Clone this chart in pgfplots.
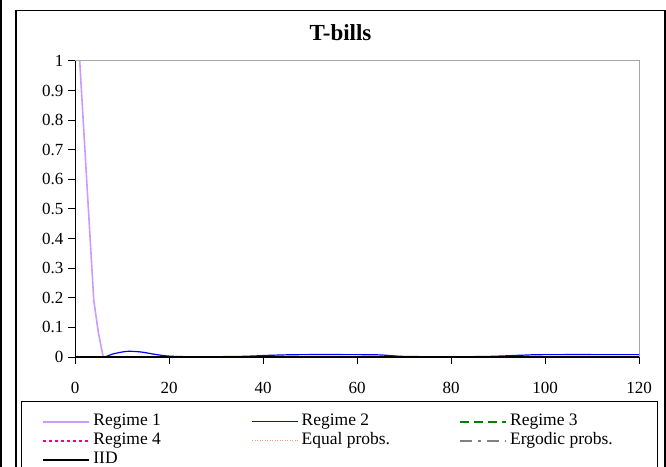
\documentclass[border=0pt]{standalone}
\usepackage{fontspec}
\setmainfont{Liberation Serif}
\usepackage{pgfplots}
\pgfplotsset{compat=1.18}
\definecolor{lav}{HTML}{CC99FF}
\definecolor{orng}{HTML}{FF9966}
\definecolor{dgreen}{HTML}{008000}
\begin{document}
\begin{tikzpicture}[x=1pt,y=1pt]
\clip (0,0) rectangle (666,466);
\draw[line width=1.5pt] (1,-5) -- (1,470);
\draw[line width=1.3pt] (16,-5) -- (16,455.5) -- (665,455.5) -- (665,-5);
\draw[line width=1pt] (21,-5) -- (21,64.5) -- (657,64.5) -- (657,-5);
\node[font=\bfseries\fontsize{23}{23}\selectfont, anchor=base] at (340.5,425) {T-bills};
\begin{axis}[
  at={(75pt,109pt)}, anchor=south west,
  scale only axis, width=564pt, height=296pt,
  xmin=0, xmax=120, ymin=0, ymax=1,
  axis x line*=bottom, axis y line*=left,
  x axis line style={line width=1.6pt, -},
  y axis line style={line width=1pt, -},
  xtick={0,20,...,120}, ytick={0,0.1,...,1},
  tick align=outside, major tick length=7pt,
  tick style={black, line width=1pt},
  /pgf/number format/assume math mode=true,
  /pgf/number format/fixed,
  ticklabel style={font=\fontsize{17}{17}\selectfont},
  xticklabel style={yshift=-15pt},
  yticklabel style={xshift=-1pt},
  clip=false,
  legend columns=3,
  legend cell align=left,
  legend style={draw=none, fill=none, inner sep=0pt,
    at={(axis description cs:-0.0585,-0.1864)}, anchor=north west,
    font=\fontsize{17.5}{17.5}\selectfont,
    nodes={inner xsep=3pt, inner ysep=0pt, text height=13pt, text depth=6pt}},
  legend image code/.code={\draw[#1] (0pt,0pt) -- (46pt,0pt);},
]
\draw[gray!70, line width=1pt] (rel axis cs:0,1) -- (rel axis cs:1,1) -- (rel axis cs:1,0);
\addplot[color=lav, line width=1.6pt] coordinates {(1,1) (2,0.73) (3,0.46) (4,0.19) (5,0.08) (6,0) (10,0) (20,0) (40,0) (60,0) (80,0) (100,0) (120,0)};
\addlegendentry{\makebox[155pt][l]{Regime 1}}
\addplot[color=blue, line width=1.2pt, smooth] coordinates {(1,0) (6,0) (8,0.01) (11,0.019) (14,0.017) (17,0.009) (20,0.003) (25,0.001) (35,0.002) (42,0.006) (48,0.008) (60,0.008) (65,0.007) (70,0.002) (80,0.001) (88,0.002) (95,0.006) (100,0.008) (120,0.008)};
\addlegendentry{\makebox[155pt][l]{Regime 2}}
\addplot[color=dgreen, line width=1.5pt, dash pattern=on 9pt off 5pt] coordinates {(1,0.001) (20,0.001) (40,0.001) (60,0.001) (80,0.001) (100,0.001) (120,0.001)};
\addlegendentry{Regime 3}
\addplot[color=magenta, line width=1.5pt, dash pattern=on 3pt off 3pt] coordinates {(1,0.002) (20,0.002) (40,0.002) (60,0.002) (80,0.002) (100,0.002) (120,0.002)};
\addlegendentry{\makebox[155pt][l]{Regime 4}}
\addplot[color=orng, line width=0.9pt, dash pattern=on 1pt off 1.5pt] coordinates {(1,0.002) (20,0.002) (40,0.002) (60,0.002) (80,0.002) (100,0.002) (120,0.002)};
\addlegendentry{\makebox[155pt][l]{Equal probs.}}
\addplot[color=gray, line width=1.5pt, dash pattern=on 12pt off 6pt on 3pt off 6pt] coordinates {(1,0.001) (20,0.001) (40,0.001) (60,0.001) (80,0.001) (100,0.001) (120,0.001)};
\addlegendentry{Ergodic probs.}
\addplot[color=black, line width=2.2pt] coordinates {(1,0) (20,0) (40,0) (60,0) (80,0) (100,0) (120,0)};
\addlegendentry{IID}
\end{axis}
\end{tikzpicture}
\end{document}
